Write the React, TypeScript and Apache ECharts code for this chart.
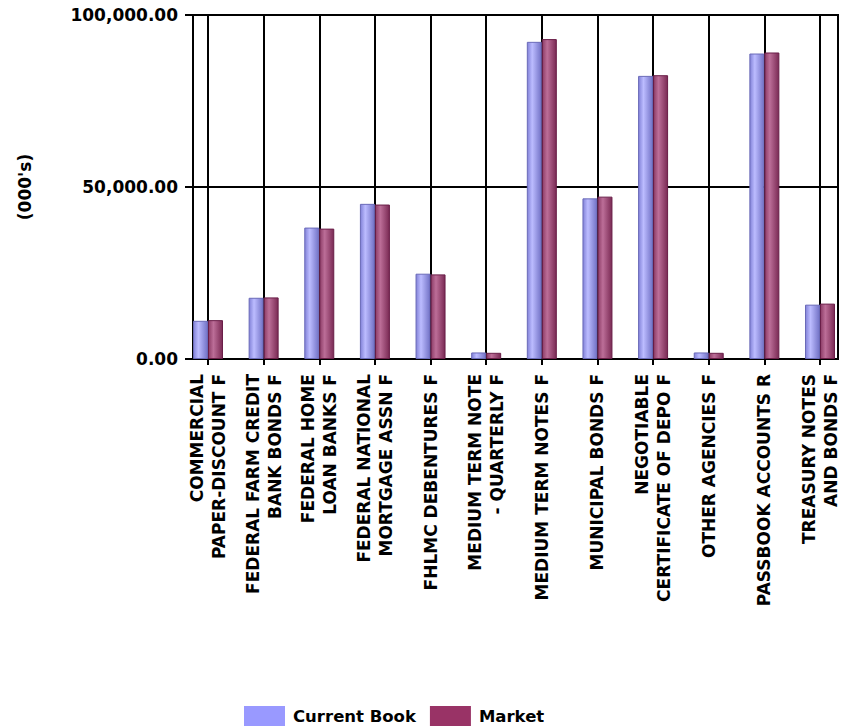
import React, { useEffect, useRef } from "react";
import * as echarts from "echarts";

const categories: string[] = [
  "COMMERCIAL\nPAPER-DISCOUNT F",
  "FEDERAL FARM CREDIT\nBANK BONDS F",
  "FEDERAL HOME\nLOAN BANKS F",
  "FEDERAL NATIONAL\nMORTGAGE ASSN F",
  "FHLMC DEBENTURES F",
  "MEDIUM TERM NOTE\n- QUARTERLY F",
  "MEDIUM TERM NOTES F",
  "MUNICIPAL BONDS F",
  "NEGOTIABLE\nCERTIFICATE OF DEPO F",
  "OTHER AGENCIES F",
  "PASSBOOK ACCOUNTS R",
  "TREASURY NOTES\nAND BONDS F",
];

const currentBook: number[] = [11100, 17800, 38200, 45100, 24800, 1900, 92200, 46700, 82300, 1900, 88800, 15800];
const market: number[] = [11300, 17900, 37900, 44900, 24600, 1800, 93000, 47200, 82500, 1800, 89100, 16100];

const yMin = 0;
const yMax = 100000;
const yInterval = 50000;

const FONT = "DejaVu Sans";

export default function App() {
  const ref = useRef<HTMLDivElement>(null);

  useEffect(() => {
    if (!ref.current) return;
    const chart = echarts.init(ref.current, undefined, { renderer: "svg" });
    const blueGrad = new echarts.graphic.LinearGradient(0, 0, 1, 0, [
      { offset: 0, color: "#8282d8" },
      { offset: 0.35, color: "#bcbcff" },
      { offset: 1, color: "#7272c6" },
    ]);
    const redGrad = new echarts.graphic.LinearGradient(0, 0, 1, 0, [
      { offset: 0, color: "#8c3c66" },
      { offset: 0.35, color: "#bc6e98" },
      { offset: 1, color: "#7a2a54" },
    ]);
    const option: any = {
      animation: false,
      backgroundColor: "#ffffff",
      textStyle: { fontFamily: FONT },
      legend: {
        left: 244,
        top: 706,
        padding: 0,
        icon: "rect",
        itemWidth: 41,
        itemHeight: 20,
        itemGap: 14,
        textStyle: { fontFamily: FONT, fontSize: 16.5, fontWeight: "bold", color: "#000", padding: [0, 0, 0, 3] },
        data: [
          { name: "Current Book", itemStyle: { color: "#9999ff", borderWidth: 0 } },
          { name: "Market", itemStyle: { color: "#993366", borderWidth: 0 } },
        ],
      },
      grid: [
        { left: 193, right: 4, top: 15, bottom: 369, show: true, borderColor: "#000", borderWidth: 2, containLabel: false },
        { left: 208, right: 19, top: 15, bottom: 369, containLabel: false },
      ],
      xAxis: [
        { gridIndex: 0, type: "value", min: 0, max: 1, show: false },
        {
          gridIndex: 1,
          type: "category",
          data: categories,
          boundaryGap: false,
          axisLine: { show: true, lineStyle: { color: "#000", width: 2 } },
          axisTick: { show: true, length: 6, lineStyle: { color: "#000", width: 2 } },
          splitLine: { show: true, lineStyle: { color: "#000", width: 2 } },
          axisLabel: {
            interval: 0,
            rotate: 90,
            margin: 15,
            fontFamily: FONT,
            fontSize: 17,
            fontWeight: "bold",
            color: "#000",
            lineHeight: 22,
          },
        },
      ],
      yAxis: [
        {
          gridIndex: 0,
          type: "value",
          min: yMin,
          max: yMax,
          interval: yInterval,
          name: "(000's)",
          nameLocation: "middle",
          nameGap: 160,
          nameTextStyle: { fontFamily: FONT, fontSize: 17, fontWeight: "bold", color: "#000" },
          axisLine: { show: true, lineStyle: { color: "#000", width: 2 } },
          axisTick: { show: true, length: 8, lineStyle: { color: "#000", width: 2 } },
          splitLine: { show: true, lineStyle: { color: "#000", width: 2 } },
          axisLabel: {
            margin: 15,
            fontFamily: FONT,
            fontSize: 17,
            fontWeight: "bold",
            color: "#000",
            formatter: (v: number) =>
              v.toLocaleString("en-US", { minimumFractionDigits: 2, maximumFractionDigits: 2 }),
          },
        },
        { gridIndex: 1, type: "value", min: yMin, max: yMax, show: false },
      ],
      series: [
        {
          name: "Current Book",
          type: "bar",
          xAxisIndex: 1,
          yAxisIndex: 1,
          data: currentBook,
          barWidth: 15,
          barGap: "0%",
          clip: false,
          itemStyle: { color: blueGrad, borderColor: "#6a6ab8", borderWidth: 1 },
        },
        {
          name: "Market",
          type: "bar",
          xAxisIndex: 1,
          yAxisIndex: 1,
          data: market,
          barWidth: 15,
          barGap: "0%",
          clip: false,
          itemStyle: { color: redGrad, borderColor: "#6a1e48", borderWidth: 1 },
        },
      ],
    };
    chart.setOption(option);
    return () => chart.dispose();
  }, []);

  return (
    <div
      ref={ref}
      style={{ position: "fixed", left: 0, top: 0, width: 842, height: 728, background: "#fff" }}
    />
  );
}
